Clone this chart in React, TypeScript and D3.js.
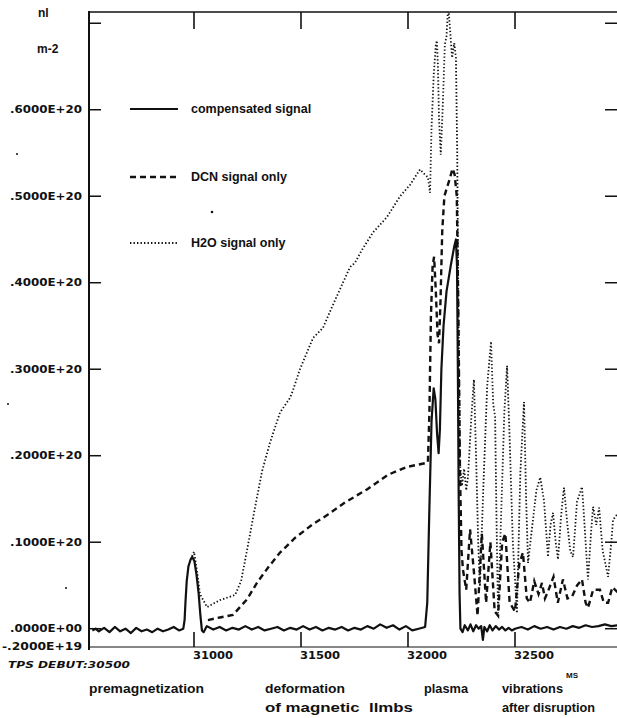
import React from "react";
import { scaleLinear, line } from "d3";

const width = 617;
const height = 718;

// values are in units of 1e19 m-2, time in ms
const compensated: [number, number][] = [
  [30525, -0.02], [30540, 0.0], [30555, -0.03], [30580, 0.01], [30605, -0.04],
  [30630, 0.02], [30655, -0.03], [30680, 0.0], [30705, -0.05], [30730, 0.01],
  [30755, -0.03], [30780, -0.01], [30805, -0.04], [30830, 0.0], [30855, -0.03],
  [30880, -0.01], [30905, 0.02], [30930, -0.02], [30950, 0.0], [30956, 0.1],
  [30960, 0.3], [30966, 0.55], [30974, 0.72], [30984, 0.8], [30992, 0.83],
  [31002, 0.78], [31012, 0.62], [31022, 0.4], [31030, 0.15], [31037, -0.02],
  [31045, -0.04], [31060, 0.03], [31090, -0.01], [31120, 0.02], [31150, -0.02],
  [31180, 0.01], [31210, -0.01], [31240, 0.03], [31270, -0.01], [31300, 0.02],
  [31330, -0.02], [31360, 0.0], [31390, 0.02], [31420, -0.02], [31450, 0.01],
  [31480, -0.01], [31510, 0.03], [31540, -0.01], [31570, 0.02], [31600, -0.02],
  [31630, 0.01], [31660, -0.01], [31690, 0.02], [31720, -0.02], [31750, 0.01],
  [31780, -0.01], [31810, 0.03], [31840, 0.0], [31870, 0.05], [31900, 0.01],
  [31930, 0.04], [31960, -0.01], [31990, 0.03], [32020, -0.02], [32050, 0.0],
  [32080, 0.02], [32090, 0.3], [32100, 1.4], [32110, 2.4], [32120, 2.78],
  [32128, 2.65], [32136, 2.25], [32143, 2.03], [32149, 2.3], [32156, 3.0],
  [32166, 3.5], [32180, 3.9], [32200, 4.2], [32216, 4.42], [32224, 4.5],
  [32229, 4.2], [32233, 3.0], [32237, 1.5], [32241, 0.4], [32245, 0.0],
  [32255, -0.04], [32265, 0.04], [32280, -0.02], [32292, 0.05], [32305, -0.03],
  [32318, 0.04], [32330, 0.0], [32342, 0.03], [32350, -0.13], [32357, 0.02],
  [32370, -0.03], [32382, 0.04], [32395, -0.02], [32410, 0.03], [32425, -0.01],
  [32440, 0.02], [32455, -0.02], [32470, 0.01], [32485, -0.02], [32500, 0.0],
  [32530, 0.02], [32560, -0.01], [32590, 0.03], [32620, 0.0], [32650, 0.02],
  [32680, -0.01], [32710, 0.02], [32740, 0.0], [32770, 0.03], [32800, 0.01],
  [32830, 0.04], [32860, 0.02], [32890, 0.03], [32920, 0.05], [32950, 0.03],
  [32980, 0.04], [33000, 0.03],
];

const dcnOnly: [number, number][] = [
  [31065, 0.1], [31121, 0.13], [31182, 0.16], [31248, 0.34], [31294, 0.53],
  [31350, 0.72], [31402, 0.88], [31472, 1.05], [31551, 1.2], [31626, 1.32],
  [31706, 1.46], [31808, 1.61], [31907, 1.78], [31995, 1.87], [32093, 1.92],
  [32100, 2.5], [32107, 3.6], [32115, 4.2], [32122, 4.3], [32130, 3.9],
  [32138, 3.4], [32145, 3.3], [32152, 3.8], [32160, 4.6], [32170, 5.0],
  [32182, 5.1], [32195, 5.2], [32208, 5.32], [32218, 5.25], [32228, 5.0],
  [32236, 3.5], [32243, 1.8], [32250, 0.9], [32257, 0.68], [32272, 0.45],
  [32290, 1.15], [32310, 0.6], [32325, 0.15], [32345, 1.1], [32365, 0.3],
  [32385, 1.0], [32405, 0.2], [32421, 0.15], [32440, 1.0], [32455, 1.1],
  [32475, 0.3], [32500, 0.2], [32520, 0.75], [32537, 0.88], [32555, 0.35],
  [32570, 0.3], [32590, 0.55], [32610, 0.4], [32626, 0.53], [32640, 0.35],
  [32654, 0.43], [32680, 0.6], [32700, 0.3], [32724, 0.57], [32745, 0.35],
  [32766, 0.37], [32790, 0.5], [32813, 0.57], [32830, 0.3], [32841, 0.24],
  [32865, 0.45], [32897, 0.45], [32915, 0.3], [32935, 0.3], [32955, 0.48],
  [32980, 0.42], [33000, 0.45],
];

const h2oOnly: [number, number][] = [
  [30984, 0.8], [31000, 0.89], [31012, 0.7], [31028, 0.4], [31061, 0.25],
  [31121, 0.33], [31192, 0.39], [31220, 0.55], [31248, 0.91], [31285, 1.4],
  [31318, 1.82], [31355, 2.15], [31402, 2.5], [31449, 2.67], [31463, 2.76],
  [31495, 3.0], [31556, 3.36], [31603, 3.48], [31645, 3.72], [31696, 4.0],
  [31729, 4.18], [31752, 4.23], [31785, 4.38], [31836, 4.58], [31902, 4.76],
  [31963, 5.0], [32009, 5.13], [32056, 5.31], [32079, 5.25], [32093, 5.22],
  [32103, 5.04], [32110, 5.8], [32120, 6.4], [32130, 6.75], [32135, 6.8],
  [32140, 6.5], [32145, 5.9], [32153, 5.48], [32162, 6.0], [32172, 6.75],
  [32180, 6.85], [32188, 7.2], [32196, 6.95], [32206, 6.6], [32216, 6.77],
  [32224, 6.6], [32230, 5.5], [32236, 3.5], [32243, 1.9], [32252, 1.65],
  [32262, 1.85], [32272, 1.6], [32280, 1.75], [32295, 2.4], [32308, 2.88],
  [32318, 2.0], [32328, 1.0], [32336, 0.49], [32350, 1.5], [32370, 2.8],
  [32388, 3.32], [32398, 2.6], [32407, 2.45], [32414, 1.2], [32421, 0.18],
  [32435, 1.3], [32450, 2.5], [32463, 3.04], [32475, 2.2], [32490, 1.0],
  [32509, 0.18], [32525, 1.8], [32542, 2.62], [32552, 1.5], [32561, 0.76],
  [32572, 1.0], [32584, 1.26], [32600, 1.6], [32618, 1.75], [32636, 1.47],
  [32654, 0.83], [32666, 1.2], [32678, 1.34], [32690, 1.0], [32701, 0.8],
  [32715, 1.3], [32729, 1.63], [32745, 1.2], [32758, 0.9], [32771, 0.83],
  [32790, 1.47], [32813, 1.64], [32825, 1.2], [32841, 0.57], [32855, 1.1],
  [32865, 1.41], [32880, 1.2], [32893, 1.4], [32910, 0.9], [32935, 0.6],
  [32950, 1.0], [32958, 1.26], [32977, 1.32], [33000, 1.2],
];

const yTickValues = [6, 5, 4, 3, 2, 1, 0, -0.2];
const yTickLabels = [
  ".6000E+20", ".5000E+20", ".4000E+20", ".3000E+20",
  ".2000E+20", ".1000E+20", ".0000E+00", "-.2000E+19",
];
const yTickMarks = [7, 6, 5, 4, 3, 2, 1, 0];
const xTickValues = [31000, 31500, 32000, 32500];

const legendItems = [
  { label: "compensated signal", dash: "none", w: 2.2 },
  { label: "DCN signal only", dash: "6 4", w: 2.4 },
  { label: "H2O signal only", dash: "1.4 2.1", w: 1.8 },
];
const legendY = [109, 177, 243];

const notes = [
  { text: "premagnetization", x: 89, y: 693, len: 115 },
  { text: "deformation", x: 265, y: 693, len: 80 },
  { text: "of magnetic  llmbs", x: 265, y: 712, len: 148 },
  { text: "plasma", x: 424, y: 693, len: 44 },
  { text: "vibrations", x: 502, y: 693, len: 61 },
  { text: "after disruption", x: 502, y: 712, len: 93 },
];

const x = scaleLinear().domain([30500, 33000]).range([87, 622]);
const y = scaleLinear().domain([-0.2, 7.13]).range([646, 12]);

const path = line<[number, number]>()
  .x((d) => x(d[0]))
  .y((d) => y(d[1]));

const ink = "#111";
const sans = "'Liberation Sans', Arial, sans-serif";
const mono = "'DejaVu Sans', sans-serif";

const App = () => (
  <svg
    width={width}
    height={height}
    style={{ position: "absolute", left: 0, top: 0, background: "#fff" }}
  >
    <defs>
      <clipPath id="plot">
        <rect x={90} y={12} width={width - 90} height={634} />
      </clipPath>
    </defs>

    {/* frame */}
    <line x1={89} x2={89} y1={11} y2={650} stroke={ink} strokeWidth={2} />
    <line x1={89} x2={width} y1={12} y2={12} stroke={ink} strokeWidth={1.5} />
    <line x1={89} x2={width} y1={647} y2={647} stroke={ink} strokeWidth={1.2} />

    {yTickMarks.map((d) => (
      <g key={d}>
        <line x1={90} x2={101} y1={y(d)} y2={y(d)} stroke={ink} strokeWidth={1.5} />
        <line x1={605} x2={617} y1={y(d)} y2={y(d)} stroke={ink} strokeWidth={1.5} />
      </g>
    ))}
    {yTickValues.map((d, i) => (
      <text
        key={d}
        x={82}
        y={y(d) + 3.5}
        textAnchor="end"
        fontFamily={mono}
        fontWeight="bold"
        fontSize={10}
        textLength={yTickLabels[i].length * 8}
        lengthAdjust="spacingAndGlyphs"
        fill={ink}
      >
        {yTickLabels[i]}
      </text>
    ))}

    {xTickValues.map((d) => (
      <g key={d}>
        <line x1={x(d)} x2={x(d)} y1={12} y2={29} stroke={ink} strokeWidth={1.6} />
        <line x1={x(d)} x2={x(d)} y1={647} y2={632} stroke={ink} strokeWidth={1.6} />
        <text
          x={x(d) - 1}
          y={659}
          fontFamily={mono}
          fontWeight="bold"
          fontSize={10}
          textLength={40}
          lengthAdjust="spacingAndGlyphs"
          fill={ink}
        >
          {d}
        </text>
      </g>
    ))}

    {/* series */}
    <g clipPath="url(#plot)" fill="none" stroke={ink}>
      <path d={path(h2oOnly) ?? ""} strokeWidth={1.8} strokeDasharray="1.4 2.1" />
      <path d={path(dcnOnly) ?? ""} strokeWidth={2.4} strokeDasharray="6 4" />
      <path d={path(compensated) ?? ""} strokeWidth={2.2} strokeLinejoin="round" />
    </g>

    {/* legend */}
    {legendItems.map((d, i) => (
      <g key={d.label}>
        <line
          x1={130}
          x2={178}
          y1={legendY[i]}
          y2={legendY[i]}
          stroke={ink}
          strokeWidth={d.w}
          strokeDasharray={d.dash}
        />
        <text
          x={191}
          y={legendY[i] + 4}
          fontFamily={sans}
          fontWeight="bold"
          fontSize={12.5}
          fill={ink}
        >
          {d.label}
        </text>
      </g>
    ))}

    {/* axis titles and annotations */}
    <text x={38} y={17} fontFamily={sans} fontWeight="bold" fontSize={12} fill={ink}>nl</text>
    <text x={37} y={53} fontFamily={sans} fontWeight="bold" fontSize={12} fill={ink}>m-2</text>
    <text
      x={8}
      y={668}
      fontFamily={mono}
      fontWeight="bold"
      fontStyle="italic"
      fontSize={9}
      textLength={122}
      lengthAdjust="spacingAndGlyphs"
      fill={ink}
    >
      TPS DEBUT:30500
    </text>
    <text x={566} y={678} fontFamily={sans} fontWeight="bold" fontSize={8} fill={ink}>MS</text>

    <g fontFamily={sans} fontWeight="bold" fontSize={13} fill={ink}>
      {notes.map((d) => (
        <text
          key={d.text}
          x={d.x}
          y={d.y}
          textLength={d.len}
          lengthAdjust="spacingAndGlyphs"
          style={{ whiteSpace: "pre" }}
        >
          {d.text}
        </text>
      ))}
    </g>

    {/* scan specks */}
    <circle cx={17} cy={154} r={1} fill={ink} />
    <circle cx={8} cy={404} r={1} fill={ink} />
    <circle cx={66} cy={588} r={1} fill={ink} />
    <circle cx={212} cy={212} r={1.3} fill={ink} />
  </svg>
);

export default App;
